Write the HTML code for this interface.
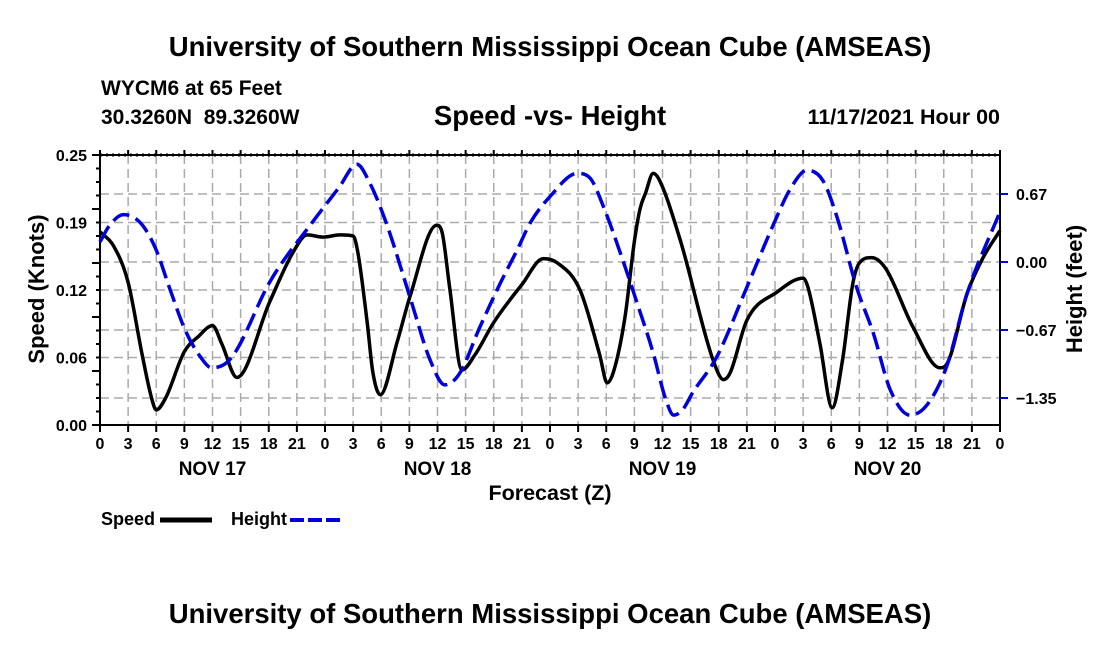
<!DOCTYPE html>
<html><head><meta charset="utf-8"><style>
body{margin:0;background:#fff}
svg text{font-family:"Liberation Sans",sans-serif;font-weight:bold;fill:#000}
</style></head><body>
<svg id="c" width="1100" height="650" viewBox="0 0 1100 650">
<text x="550" y="56" font-size="27.5" text-anchor="middle">University of Southern Mississippi Ocean Cube (AMSEAS)</text>
<text x="101" y="95" font-size="21">WYCM6 at 65 Feet</text>
<text x="101" y="124" font-size="21" xml:space="preserve">30.3260N  89.3260W</text>
<text x="550" y="125" font-size="27.5" text-anchor="middle">Speed -vs- Height</text>
<text x="1000" y="124" font-size="21.5" text-anchor="end">11/17/2021 Hour 00</text>
<g id="grid"></g><g id="axes"></g><g id="series"></g>
<text x="550" y="500" font-size="21.5" text-anchor="middle">Forecast (Z)</text>
<text transform="translate(44,289) rotate(-90)" font-size="22" text-anchor="middle">Speed (Knots)</text>
<text transform="translate(1082,289) rotate(-90)" font-size="22" text-anchor="middle">Height (feet)</text>
<g>
<text x="101" y="525" font-size="18">Speed</text>
<line x1="160" y1="520" x2="212" y2="520" stroke="#000" stroke-width="5"/>
<text x="231" y="525" font-size="18">Height</text>
<line x1="290" y1="520" x2="342" y2="520" stroke="#0000dd" stroke-width="4" stroke-dasharray="14,4"/>
</g>
<text x="550" y="623" font-size="27.5" text-anchor="middle">University of Southern Mississippi Ocean Cube (AMSEAS)</text>
</svg>
<script>
const speedHours=[0,1.5,3,4.5,5.5,6,7,9,10.5,12,13,14.6,18.1,20.6,22.1,23.8,25.6,27,27.5,28.5,29.1,29.9,31.7,33.1,35.9,36.5,37.3,38.6,40,42,45,47.3,48.8,51.2,53.3,54.1,54.8,56,57,57.6,58.2,59,59.6,61.9,65.4,66.5,67.2,69,72.2,75,75.5,76.8,78.1,79.2,80.3,81,82.3,83.8,86.7,89.6,90.3,92.5,94.2,96];
const speedValues=[0.179,0.165,0.132,0.065,0.025,0.014,0.025,0.068,0.082,0.092,0.075,0.044,0.114,0.16,0.176,0.174,0.176,0.175,0.16,0.095,0.049,0.028,0.077,0.12,0.185,0.178,0.127,0.051,0.065,0.095,0.13,0.154,0.15,0.125,0.065,0.039,0.05,0.1,0.17,0.2,0.215,0.233,0.228,0.171,0.06,0.042,0.048,0.097,0.123,0.136,0.128,0.075,0.016,0.06,0.131,0.15,0.155,0.145,0.091,0.053,0.056,0.122,0.155,0.18];
const heightHours=[0,1,2.5,4.3,5.9,7.5,9.1,10.7,11.9,13.5,14.6,18.1,22.7,25.5,27.4,28.8,30.6,33.1,35.2,36.8,38.4,40.5,42.7,44.5,45.9,48,50.9,52.3,53.7,55.5,57.3,59,60.3,61.2,62.2,63.2,65.8,69,72.2,73.6,75.4,77.1,78.6,80.7,82.5,84.3,86.4,88.2,90.3,92.5,96];
const heightValues=[0.2,0.36,0.47,0.39,0.14,-0.28,-0.68,-0.94,-1.05,-1.0,-0.87,-0.2,0.4,0.74,0.97,0.78,0.37,-0.36,-0.97,-1.22,-1.1,-0.65,-0.21,0.12,0.39,0.65,0.88,0.83,0.55,0.09,-0.41,-0.9,-1.35,-1.52,-1.46,-1.3,-0.94,-0.25,0.45,0.72,0.91,0.81,0.45,-0.25,-0.71,-1.27,-1.52,-1.42,-1.04,-0.31,0.5];
const leftTicks=[0,0.0625,0.125,0.1875,0.25];
const leftTickLabels=["0.00","0.06","0.12","0.19","0.25"];
const rightTicks=[-1.35,-0.675,0,0.675];
const rightTickLabels=["\u22121.35","\u22120.67","0.00","0.67"];
const hourTickLabels=["0","3","6","9","12","15","18","21"];
const dayLabels=["NOV 17","NOV 18","NOV 19","NOV 20"];

const X0=100,X1=1000,YT=155,YB=425;
const xs=h=>X0+(X1-X0)*h/96;
const ys=v=>YB-(YB-YT)*v/0.25;
const yh=v=>262-v*68/0.675;
const NS="http://www.w3.org/2000/svg";
function mk(parent,tag,attrs){const e=document.createElementNS(NS,tag);for(const k in attrs)e.setAttribute(k,attrs[k]);document.getElementById(parent).appendChild(e);return e;}
for(let i=1;i<32;i++){const l=mk('grid','line',{x1:xs(i*3),x2:xs(i*3),y1:YT,y2:YB,stroke:'#aaa','stroke-width':1.5,'stroke-dasharray':'9,5'});

}
leftTicks.slice(1,4).forEach(v=>{const l=mk('grid','line',{x1:X0,x2:X1,y1:ys(v),y2:ys(v),stroke:'#aaa','stroke-width':1.5,'stroke-dasharray':'9,5'});

});
rightTicks.forEach(v=>{const l=mk('grid','line',{x1:X0,x2:X1,y1:yh(v),y2:yh(v),stroke:'#aaa','stroke-width':1.5,'stroke-dasharray':'9,5'});

});
const fr=mk('axes','rect',{x:X0,y:YT,width:X1-X0,height:YB-YT,fill:'none',stroke:'#000','stroke-width':2});


mk('axes','line',{x1:X0,x2:X1,y1:YT,y2:YT,stroke:'#000','stroke-width':3,'stroke-dasharray':'2,4'});
for(let i=0;i<=32;i++){const x=xs(i*3);
mk('axes','line',{x1:x,x2:x,y1:YB,y2:YB+7,stroke:'#000','stroke-width':2});
mk('axes','line',{x1:x,x2:x,y1:YT,y2:YT-5,stroke:'#000','stroke-width':2});
const t=mk('axes','text',{x:x,y:449,'font-size':16,'text-anchor':'middle'});t.textContent=hourTickLabels[i%8];

}
dayLabels.forEach((d,i)=>{const t=mk('axes','text',{x:xs(12+24*i),y:475,'font-size':19,'text-anchor':'middle'});t.textContent=d;

});
for(let i=0;i<=20;i++){const y=YB-(YB-YT)*i/20;mk('axes','line',{x1:X0,x2:X0-(i%4==0?8:4),y1:y,y2:y,stroke:'#000','stroke-width':2});}
leftTicks.forEach((v,i)=>{const t=mk('axes','text',{x:87,y:ys(v)+6,'font-size':16,'text-anchor':'end'});t.textContent=leftTickLabels[i];

});
rightTicks.forEach((v,i)=>{mk('axes','line',{x1:X1,x2:X1+8,y1:yh(v),y2:yh(v),stroke:'#0000dd','stroke-width':2});
const t=mk('axes','text',{x:1016,y:yh(v)+6,'font-size':16});t.textContent=rightTickLabels[i];

});
function path(px,py){const n=px.length,d=[],m=[];
for(let i=0;i<n-1;i++)d.push((py[i+1]-py[i])/(px[i+1]-px[i]));
for(let i=0;i<n;i++){if(i==0)m.push(d[0]);else if(i==n-1)m.push(d[n-2]);else m.push(d[i-1]*d[i]<=0?0:(d[i-1]+d[i])/2);}
for(let i=0;i<n-1;i++){if(d[i]==0){m[i]=m[i+1]=0;continue;}const a=m[i]/d[i],b=m[i+1]/d[i],s=a*a+b*b;if(s>9){const t=3/Math.sqrt(s);m[i]=t*a*d[i];m[i+1]=t*b*d[i];}}
let s=`M${px[0]},${py[0]}`;for(let i=0;i<n-1;i++){const h=(px[i+1]-px[i])/3;s+=` C${px[i]+h},${py[i]+m[i]*h} ${px[i+1]-h},${py[i+1]-m[i+1]*h} ${px[i+1]},${py[i+1]}`;}return s;}
const sp=mk('series','path',{d:path(speedHours.map(xs),speedValues.map(ys)),fill:'none',stroke:'#000','stroke-width':3.5,'stroke-linejoin':'round'});


const hp=mk('series','path',{d:path(heightHours.map(xs),heightValues.map(yh)),fill:'none',stroke:'#0000dd','stroke-width':3.5,'stroke-dasharray':'18,7'});


</script>
</body></html>
